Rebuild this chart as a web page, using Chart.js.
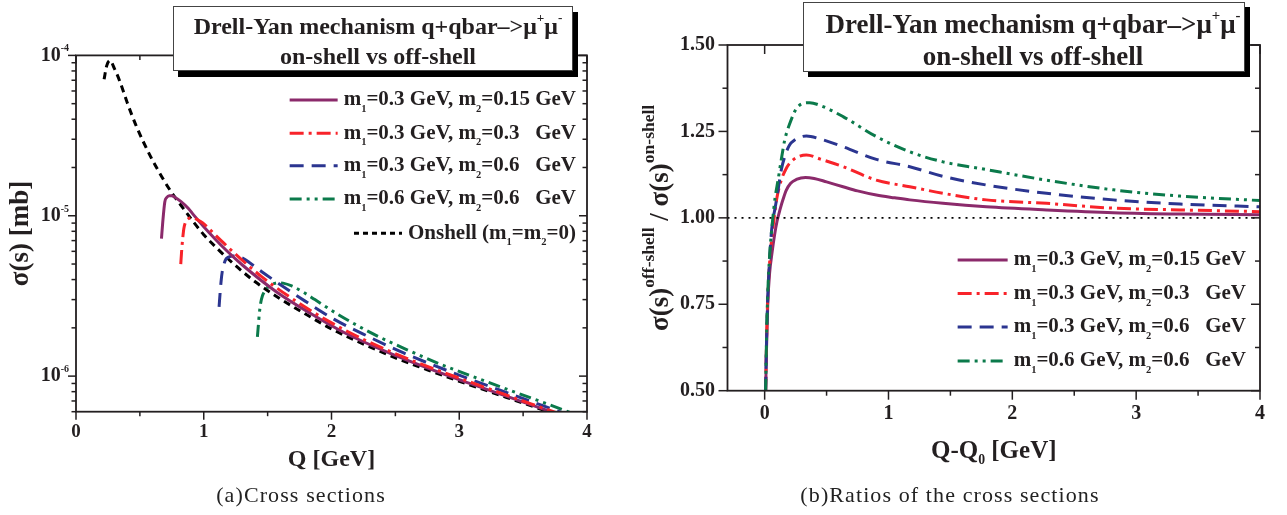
<!DOCTYPE html>
<html><head><meta charset="utf-8">
<script src="https://cdn.jsdelivr.net/npm/chart.js@4.4.0/dist/chart.umd.min.js"></script>
<style>
html,body{margin:0;padding:0;background:#fff;width:1287px;height:515px;overflow:hidden;position:relative}
canvas{position:absolute;top:0}
#c1{left:0px}
#c2{left:640px}
.cap{position:absolute;top:483px;font:22px "Liberation Serif",serif;letter-spacing:1.1px;line-height:24px;color:#222;white-space:nowrap;transform:translateX(-50%)}
</style></head><body>
<canvas id="c1" width="640" height="515"></canvas>
<canvas id="c2" width="647" height="515"></canvas>
<div class="cap" style="left:301px">(a)Cross sections</div>
<div class="cap" style="left:950px">(b)Ratios of the cross sections</div>
<script>
// ---------------- DATA: (a) cross sections ----------------
const onshellQ     = [0.22,0.24,0.265,0.30,0.344,0.40,0.474,0.578,0.67,0.75,0.82,0.917,1.0,1.1,1.229,1.4,1.594,1.8,2.0,2.25,2.5,2.75,3.0,3.25,3.5,3.8];
const onshellSigma = [7.1e-5,8.6e-5,9.3e-5,8.3e-5,6.86e-5,5.1e-5,3.59e-5,2.39e-5,1.76e-5,1.39e-5,1.167e-5,9.2e-6,7.62e-6,6.31e-6,5.05e-6,3.89e-6,3.05e-6,2.43e-6,1.97e-6,1.585e-6,1.30e-6,1.096e-6,9.29e-7,7.94e-7,6.79e-7,5.62e-7];
const a1Q     = [0.669,0.678,0.695,0.71,0.73,0.75,0.77,0.82,0.88,0.917,1.0,1.17,1.3,1.57,1.84,2.11,2.46,2.95,3.49,3.8];
const a1Sigma = [7.2e-6,8.9e-6,1.22e-5,1.30e-5,1.335e-5,1.335e-5,1.31e-5,1.23e-5,1.11e-5,1.02e-5,8.55e-6,6.16e-6,4.95e-6,3.35e-6,2.45e-6,1.85e-6,1.386e-6,9.81e-7,6.94e-7,5.69e-7];
const a2Q     = [0.82,0.828,0.835,0.845,0.86,0.88,0.90,0.92,0.955,0.99,1.02,1.08,1.157,1.27,1.453,1.72,1.99,2.26,2.61,3.1,3.64,3.85];
const a2Sigma = [5.0e-6,6.2e-6,7.2e-6,8.4e-6,9.2e-6,9.6e-6,9.75e-6,9.7e-6,9.4e-6,9.04e-6,8.63e-6,7.73e-6,6.75e-6,5.56e-6,4.17e-6,2.94e-6,2.17e-6,1.68e-6,1.27e-6,9.1e-7,6.39e-7,5.58e-7];
const a3Q     = [1.12,1.128,1.135,1.145,1.16,1.175,1.19,1.21,1.23,1.255,1.282,1.32,1.362,1.457,1.57,1.753,2.022,2.292,2.56,2.91,3.396,3.87];
const a3Sigma = [2.7e-6,3.3e-6,3.85e-6,4.5e-6,5.05e-6,5.38e-6,5.5e-6,5.58e-6,5.62e-6,5.62e-6,5.55e-6,5.36e-6,5.07e-6,4.46e-6,3.86e-6,3.08e-6,2.26e-6,1.76e-6,1.40e-6,1.08e-6,7.76e-7,5.67e-7];
const a4Q     = [1.42,1.428,1.435,1.445,1.46,1.474,1.487,1.505,1.528,1.555,1.582,1.62,1.689,1.784,1.87,2.053,2.322,2.592,2.86,3.157,3.696,3.95];
const a4Sigma = [1.76e-6,2.1e-6,2.45e-6,2.84e-6,3.18e-6,3.36e-6,3.48e-6,3.62e-6,3.72e-6,3.79e-6,3.82e-6,3.80e-6,3.65e-6,3.32e-6,3.0e-6,2.42e-6,1.84e-6,1.46e-6,1.18e-6,9.6e-7,6.67e-7,5.6e-7];
const leftXTicks = [0,1,2,3,4];
const leftYTickExp = [-6,-5,-4];

// ---------------- DATA: (b) ratios ----------------
const b1X = [0.008,0.015,0.025,0.04,0.06,0.08,0.1,0.125,0.15,0.175,0.21,0.256,0.33,0.4,0.5,0.633,0.75,0.902,1.05,1.172,1.44,1.79,2.276,2.815,3.354,4.0];
const b1R = [0.5,0.62,0.75,0.84,0.9,0.95,0.99,1.025,1.055,1.08,1.1,1.111,1.117,1.114,1.104,1.09,1.078,1.066,1.058,1.052,1.042,1.032,1.023,1.015,1.011,1.009];
const b2X = [0.008,0.015,0.025,0.04,0.06,0.08,0.1,0.135,0.17,0.202,0.26,0.337,0.45,0.633,0.902,1.172,1.44,1.79,2.276,2.815,3.354,4.0];
const b2R = [0.5,0.64,0.77,0.87,0.95,1.01,1.06,1.11,1.14,1.158,1.175,1.182,1.17,1.148,1.109,1.09,1.071,1.052,1.042,1.028,1.023,1.018];
const b3X = [0.008,0.015,0.025,0.04,0.055,0.07,0.09,0.108,0.135,0.162,0.2,0.242,0.337,0.45,0.633,0.902,1.172,1.44,1.79,2.276,2.815,3.354,4.0];
const b3R = [0.5,0.64,0.77,0.88,0.96,1.0,1.04,1.08,1.14,1.177,1.21,1.225,1.237,1.228,1.206,1.169,1.148,1.12,1.095,1.071,1.052,1.04,1.032];
const b4X = [0.008,0.015,0.025,0.04,0.054,0.067,0.085,0.108,0.135,0.162,0.2,0.269,0.364,0.45,0.633,0.902,1.172,1.44,1.737,2.276,2.815,3.354,4.0];
const b4R = [0.5,0.65,0.78,0.89,0.955,1.003,1.06,1.109,1.17,1.225,1.27,1.322,1.333,1.325,1.293,1.235,1.191,1.162,1.143,1.109,1.081,1.063,1.05];
const refX = [-0.3,4.0];
const refR = [1.0,1.0];
const rightXTicks = [0,1,2,3,4];
const rightYTicks = [0.5,0.75,1.0,1.25,1.5];
const rightYLabels = ['0.50','0.75','1.00','1.25','1.50'];

const seriesLabels = ['m_1=0.3 GeV, m_2=0.15 GeV','m_1=0.3 GeV, m_2=0.3   GeV','m_1=0.3 GeV, m_2=0.6   GeV','m_1=0.6 GeV, m_2=0.6   GeV'];
const onshellLabel = 'Onshell (m_1=m_2=0)';
const titleLines = ['Drell-Yan mechanism q+qbar\u2013>\u03bc^+\u03bc^-','on-shell vs off-shell'];

// ---------------- styles ----------------
const FONT = '"Liberation Serif","Times New Roman",serif';
const INK = '#231f20';
const COL = ['#8b2a6b','#f8232a','#2b3590','#0b7a4b','#000000'];
const DASH = [[],[14,5,3,5],[14,8],[12,5,3,5,3,5],[7,5]];

function pts(xs, ys){ return xs.map((x,i)=>({x:x,y:ys[i]})); }
function fontStr(sz,bold){ return (bold?'bold ':'')+sz+'px '+FONT; }
function parseRich(s){
  const segs=[]; let i=0, buf='';
  const push=(t,m)=>{ if(t) segs.push({t:t,m:m}); };
  while(i<s.length){
    const c=s[i];
    if(c==='_'||c==='^'){
      push(buf,0); buf='';
      const m=(c==='_')?1:2; i++;
      let t;
      if(s[i]==='{'){ const j=s.indexOf('}',i); t=s.slice(i+1,j); i=j+1; }
      else { t=s[i]; i++; }
      push(t,m);
    } else { buf+=c; i++; }
  }
  push(buf,0);
  return segs;
}
function drawRich(ctx,str,x,y,o){
  o=Object.assign({size:20,bold:true,align:'left',subScale:0.5,subShift:0.45,supScale:0.5,supShift:-0.4,color:INK},o||{});
  const segs=parseRich(str); let w=0;
  segs.forEach(s=>{ s.sz=s.m===0?o.size:(s.m===1?o.size*o.subScale:o.size*o.supScale); ctx.font=fontStr(s.sz,o.bold); s.w=ctx.measureText(s.t).width; w+=s.w; });
  let cx=o.align==='left'?x:(o.align==='right'?x-w:x-w/2);
  ctx.fillStyle=o.color; ctx.textBaseline='middle'; ctx.textAlign='left';
  segs.forEach(s=>{ ctx.font=fontStr(s.sz,o.bold); const dy=s.m===0?0:(s.m===1?o.size*o.subShift:o.size*o.supShift); ctx.fillText(s.t,cx,y+dy); cx+=s.w; });
  return w;
}

const framePlugin = {
  id:'frame',
  afterDraw(chart){
    const o=chart.options.plugins.frame;
    const ctx=chart.ctx, a=chart.chartArea, xs=chart.scales.x, ys=chart.scales.y;
    ctx.save();
    ctx.setLineDash([]);
    ctx.strokeStyle=INK; ctx.lineWidth=o.lw;
    ctx.strokeRect(a.left,a.top,a.right-a.left,a.bottom-a.top);
    const seg=(x1,y1,x2,y2)=>{ ctx.beginPath(); ctx.moveTo(x1,y1); ctx.lineTo(x2,y2); ctx.stroke(); };
    ctx.lineWidth=o.tw;
    const xt=(vals,len)=>vals.forEach(v=>{ const p=xs.getPixelForValue(v); seg(p,a.bottom,p,a.bottom+len); seg(p,a.top,p,a.top+len); });
    const yt=(vals,len)=>vals.forEach(v=>{ const p=ys.getPixelForValue(v); seg(a.left-len,p,a.left,p); seg(a.right-len,p,a.right,p); });
    xt(o.xMajor,o.maj); xt(o.xMinor,o.min); yt(o.yMajor,o.maj); yt(o.yMinor,o.min);
    if(o.logLabels){
      o.logLabels.forEach(e=>{
        const p=ys.getPixelForValue(Math.pow(10,e));
        drawRich(ctx,'10^{'+e+'}',o.logLabelRight,p,{size:o.tickSize,align:'right',supScale:0.5,supShift:-0.33});
      });
    }
    drawRich(ctx,o.xTitle,(a.left+a.right)/2+o.xTitleDX,o.xTitleY,{size:o.axisSize,align:'center',subScale:0.55,subShift:0.35});
    ctx.save(); ctx.translate(o.yTitleX,(a.top+a.bottom)/2); ctx.rotate(-Math.PI/2);
    drawRich(ctx,o.yTitle,0,0,{size:o.yAxisSize,align:'center',supScale:0.65,supShift:-0.42});
    ctx.restore();
    o.legend.forEach((it,i)=>{
      const y=o.legY[i];
      const w=drawRich(ctx,it.label,o.legRight,y,{size:o.legSize,align:'right'});
      const x2=o.legRight-w-o.legGap, x1=x2-o.legLen;
      ctx.save(); ctx.strokeStyle=it.color; ctx.lineWidth=it.width; ctx.setLineDash(it.dash);
      ctx.beginPath(); ctx.moveTo(x1,y); ctx.lineTo(x2,y); ctx.stroke(); ctx.restore();
    });
    const b=o.box;
    ctx.fillStyle='#000'; ctx.fillRect(b.x+b.sx,b.y+b.sy,b.w,b.h);
    ctx.fillStyle='#fff'; ctx.fillRect(b.x,b.y,b.w,b.h);
    ctx.strokeStyle='#444'; ctx.lineWidth=1; ctx.strokeRect(b.x+0.5,b.y+0.5,b.w-1,b.h-1);
    drawRich(ctx,titleLines[0],b.cx,b.y1,{size:o.titleSize,align:'center',supScale:0.55,supShift:-0.38});
    drawRich(ctx,titleLines[1],b.cx,b.y2,{size:o.titleSize,align:'center'});
    ctx.restore();
  }
};

function ds(data,i,w){
  return {data:data,borderColor:COL[i],borderWidth:w||3,borderDash:DASH[i],pointRadius:0,showLine:true,fill:false,
          cubicInterpolationMode:'monotone',borderCapStyle:'butt',borderJoinStyle:'round'};
}
Chart.defaults.font.family=FONT;
Chart.defaults.color=INK;

// ---------------- chart (a) ----------------
const logMinor=[];
[-7,-6,-5].forEach(e=>{ for(let k=2;k<=9;k++){ const v=k*Math.pow(10,e); if(v>=6e-7&&v<1e-4) logMinor.push(v);} });
new Chart(document.getElementById('c1'),{
  type:'scatter',
  data:{datasets:[
    ds(pts(a2Q,a2Sigma),1,3),
    ds(pts(a1Q,a1Sigma),0,3),
    ds(pts(a3Q,a3Sigma),2,3),
    ds(pts(a4Q,a4Sigma),3,3),
    ds(pts(onshellQ,onshellSigma),4,3)
  ]},
  options:{
    responsive:false,animation:false,devicePixelRatio:1,
    layout:{padding:{left:0,top:55.4,right:53,bottom:0}},
    scales:{
      x:{type:'linear',min:0,max:4,
         afterBuildTicks:s=>{ s.ticks=leftXTicks.map(v=>({value:v})); },
         afterFit:s=>{ s.height=515-411.7; },
         grid:{display:false,drawTicks:false},border:{display:false},
         ticks:{font:{size:19,weight:'bold'},color:INK,padding:8.6,maxRotation:0}},
      y:{type:'logarithmic',min:6e-7,max:1e-4,
         afterBuildTicks:s=>{ s.ticks=leftYTickExp.map(e=>({value:Math.pow(10,e)})); },
         afterFit:s=>{ s.width=76; },
         grid:{display:false,drawTicks:false},border:{display:false},
         ticks:{display:false}}
    },
    plugins:{legend:{display:false},tooltip:{enabled:false},
      frame:{lw:1.8,tw:1.5,maj:8,min:4.5,
        xMajor:leftXTicks,xMinor:[0.5,1.5,2.5,3.5],
        yMajor:leftYTickExp.map(e=>Math.pow(10,e)),yMinor:logMinor,
        logLabels:leftYTickExp,logLabelRight:69,tickSize:20,
        xTitle:'Q [GeV]',xTitleY:460,xTitleDX:0,axisSize:24,yAxisSize:27,
        yTitle:'\u03c3(s) [mb]',yTitleX:21,
        legend:[
          {label:seriesLabels[0],color:COL[0],dash:DASH[0],width:3},
          {label:seriesLabels[1],color:COL[1],dash:DASH[1],width:3},
          {label:seriesLabels[2],color:COL[2],dash:DASH[2],width:3},
          {label:seriesLabels[3],color:COL[3],dash:DASH[3],width:3},
          {label:onshellLabel,color:COL[4],dash:[5,4],width:3}
        ],
        legY:[100,133.3,165.7,199,233.3],legRight:576,legGap:6,legLen:48,legSize:21,
        box:{x:173,y:6,w:400,h:65,sx:5,sy:6,cx:378,y1:28,y2:58},titleSize:24
      }}
  },
  plugins:[framePlugin]
});

// ---------------- chart (b) ----------------
new Chart(document.getElementById('c2'),{
  type:'scatter',
  data:{datasets:[
    {data:pts(refX,refR),borderColor:'#000',borderWidth:1.6,borderDash:[2,5],pointRadius:0,showLine:true,fill:false},
    ds(pts(b4X,b4R),3,3),
    ds(pts(b3X,b3R),2,3),
    ds(pts(b2X,b2R),1,3),
    ds(pts(b1X,b1R),0,3)
  ]},
  options:{
    responsive:false,animation:false,devicePixelRatio:1,
    layout:{padding:{left:0,top:45,right:27,bottom:0}},
    scales:{
      x:{type:'linear',min:-0.3,max:4,
         afterBuildTicks:s=>{ s.ticks=rightXTicks.map(v=>({value:v})); },
         afterFit:s=>{ s.height=515-390.7; },
         grid:{display:false,drawTicks:false},border:{display:false},
         ticks:{font:{size:20,weight:'bold'},color:INK,padding:11,maxRotation:0}},
      y:{type:'linear',min:0.5,max:1.5,
         afterBuildTicks:s=>{ s.ticks=rightYTicks.map(v=>({value:v})); },
         afterFit:s=>{ s.width=87.5; },
         grid:{display:false,drawTicks:false},border:{display:false},
         ticks:{font:{size:20,weight:'bold'},color:INK,padding:12.5,
                callback:(v)=>{ const i=rightYTicks.indexOf(v); return i>=0?rightYLabels[i]:''; }}}
    },
    plugins:{legend:{display:false},tooltip:{enabled:false},
      frame:{lw:1.8,tw:1.5,maj:9,min:5,
        xMajor:rightXTicks,xMinor:[0.5,1.5,2.5,3.5],
        yMajor:rightYTicks,yMinor:[0.625,0.875,1.125,1.375],
        logLabels:null,
        xTitle:'Q-Q_0 [GeV]',xTitleY:452,xTitleDX:0,axisSize:25,yAxisSize:27,
        yTitle:'\u03c3(s)^{off-shell} / \u03c3(s)^{on-shell}',yTitleX:21,
        legend:[
          {label:seriesLabels[0],color:COL[0],dash:DASH[0],width:3},
          {label:seriesLabels[1],color:COL[1],dash:DASH[1],width:3},
          {label:seriesLabels[2],color:COL[2],dash:DASH[2],width:3},
          {label:seriesLabels[3],color:COL[3],dash:DASH[3],width:3}
        ],
        legY:[260,293.5,327,361],legRight:606,legGap:6,legLen:50,legSize:21,
        box:{x:163,y:2,w:442,h:70,sx:5,sy:5,cx:393,y1:26,y2:58},titleSize:27
      }}
  },
  plugins:[framePlugin]
});
</script>
</body></html>
